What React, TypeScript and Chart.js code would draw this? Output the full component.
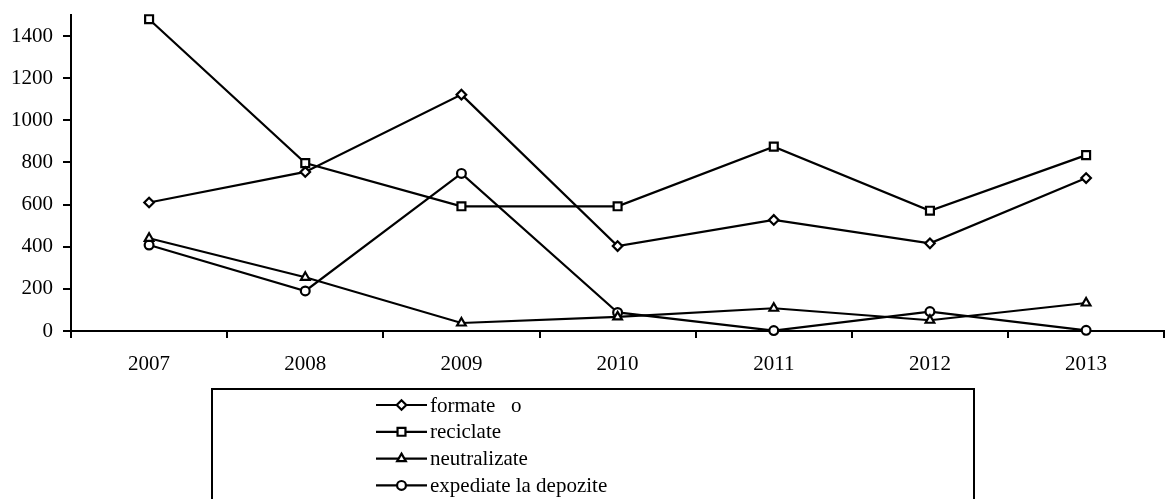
import React, { useEffect, useRef } from 'react';
import { Chart, registerables } from 'chart.js';
import { drawPoint } from 'chart.js/helpers';

Chart.register(...registerables);

// ---- data ----
const categories = ['2007', '2008', '2009', '2010', '2011', '2012', '2013'];
const seriesNames = ['formate   o', 'reciclate', 'neutralizate', 'expediate la depozite'];
const formateValues = [610, 755, 1122, 403, 527, 416, 726];
const reciclateValues = [1480, 797, 592, 592, 875, 571, 835];
const neutralizateValues = [440, 255, 38, 67, 108, 51, 133];
const expediateValues = [408, 190, 748, 88, 2, 92, 3];
const yTickValues = [0, 200, 400, 600, 800, 1000, 1200, 1400];
const yMin = 0;
const yMax = 1500;

// ---- styles ----
const FONT = "'Liberation Serif', 'Times New Roman', serif";
const markerStyles = ['rectRot', 'rect', 'triangle', 'circle'];
const markerRadii = [4.8, 5.6, 5, 4.4];

const legendPlugin = {
  id: 'boxLegend',
  afterDraw(chart: any) {
    const ctx = chart.ctx;
    const area = chart.chartArea;
    const boxLeft = 212;
    const boxTop = area.bottom + 58;
    const boxRight = 974;
    ctx.save();
    ctx.strokeStyle = '#000';
    ctx.lineWidth = 2;
    ctx.strokeRect(boxLeft, boxTop, boxRight - boxLeft, 200);
    const rowStart = boxTop + 16;
    const rowStep = 26.8;
    const lineX0 = 376;
    const lineX1 = 427;
    const textX = 430;
    ctx.font = `21px ${FONT}`;
    ctx.textBaseline = 'middle';
    ctx.textAlign = 'left';
    chart.data.datasets.forEach((ds: any, i: number) => {
      const y = rowStart + i * rowStep;
      ctx.strokeStyle = '#000';
      ctx.lineWidth = 2.2;
      ctx.beginPath();
      ctx.moveTo(lineX0, y);
      ctx.lineTo(lineX1, y);
      ctx.stroke();
      ctx.fillStyle = '#fff';
      ctx.strokeStyle = '#000';
      ctx.lineWidth = 2.2;
      drawPoint(ctx, { pointStyle: ds.pointStyle, radius: ds.pointRadius, rotation: 0, borderWidth: 2.2 }, (lineX0 + lineX1) / 2, y);
      ctx.fillStyle = '#000';
      ctx.fillText(ds.label, textX, y + 1);
    });
    ctx.restore();
  },
};

export default function App() {
  const ref = useRef<HTMLCanvasElement | null>(null);

  useEffect(() => {
    if (!ref.current) return;
    Chart.defaults.font.family = FONT;
    Chart.defaults.font.size = 21;
    Chart.defaults.color = '#000';
    const seriesValues = [formateValues, reciclateValues, neutralizateValues, expediateValues];
    const chart = new Chart(ref.current, {
      type: 'line',
      data: {
        labels: categories,
        datasets: seriesValues.map((vals, i) => ({
          label: seriesNames[i],
          data: vals,
          borderColor: '#000',
          borderWidth: 2.2,
          backgroundColor: '#fff',
          pointStyle: markerStyles[i] as any,
          pointRadius: markerRadii[i],
          pointBorderWidth: 2.2,
          pointBorderColor: '#000',
          pointBackgroundColor: '#fff',
          tension: 0,
          fill: false,
          clip: false as any,
        })),
      },
      options: {
        responsive: false,
        animation: false,
        devicePixelRatio: 1,
        layout: { padding: { top: 15, bottom: 123, left: 0, right: 0 } },
        plugins: {
          legend: { display: false },
          tooltip: { enabled: false },
        },
        scales: {
          x: {
            offset: true,
            grid: {
              offset: true,
              display: true,
              drawOnChartArea: false,
              drawTicks: true,
              tickLength: 7,
              color: '#000',
              lineWidth: 2,
            },
            border: { display: true, color: '#000', width: 2 },
            ticks: { padding: 14, maxRotation: 0, autoSkip: false },
            afterFit: (s: any) => {
              s.height = 45;
            },
          },
          y: {
            min: yMin,
            max: yMax,
            grid: {
              display: true,
              drawOnChartArea: false,
              drawTicks: true,
              tickLength: 8,
              color: '#000',
              lineWidth: 2,
            },
            border: { display: true, color: '#000', width: 2 },
            ticks: {
              stepSize: 200,
              includeBounds: false,
              padding: 10,
              callback: (v: any) => String(v),
            },
            afterBuildTicks: (s: any) => {
              s.ticks = yTickValues.map((v) => ({ value: v }));
            },
            afterFit: (s: any) => {
              s.width = 71;
              s.paddingTop = 0;
              s.paddingBottom = 0;
            },
          },
        },
      },
      plugins: [legendPlugin],
    });
    return () => chart.destroy();
  }, []);

  return (
    <div style={{ position: 'absolute', left: 0, top: 0, width: 1167, height: 499, overflow: 'hidden', background: '#fff' }}>
      <canvas ref={ref} width={1172} height={499} style={{ display: 'block' }} />
    </div>
  );
}
